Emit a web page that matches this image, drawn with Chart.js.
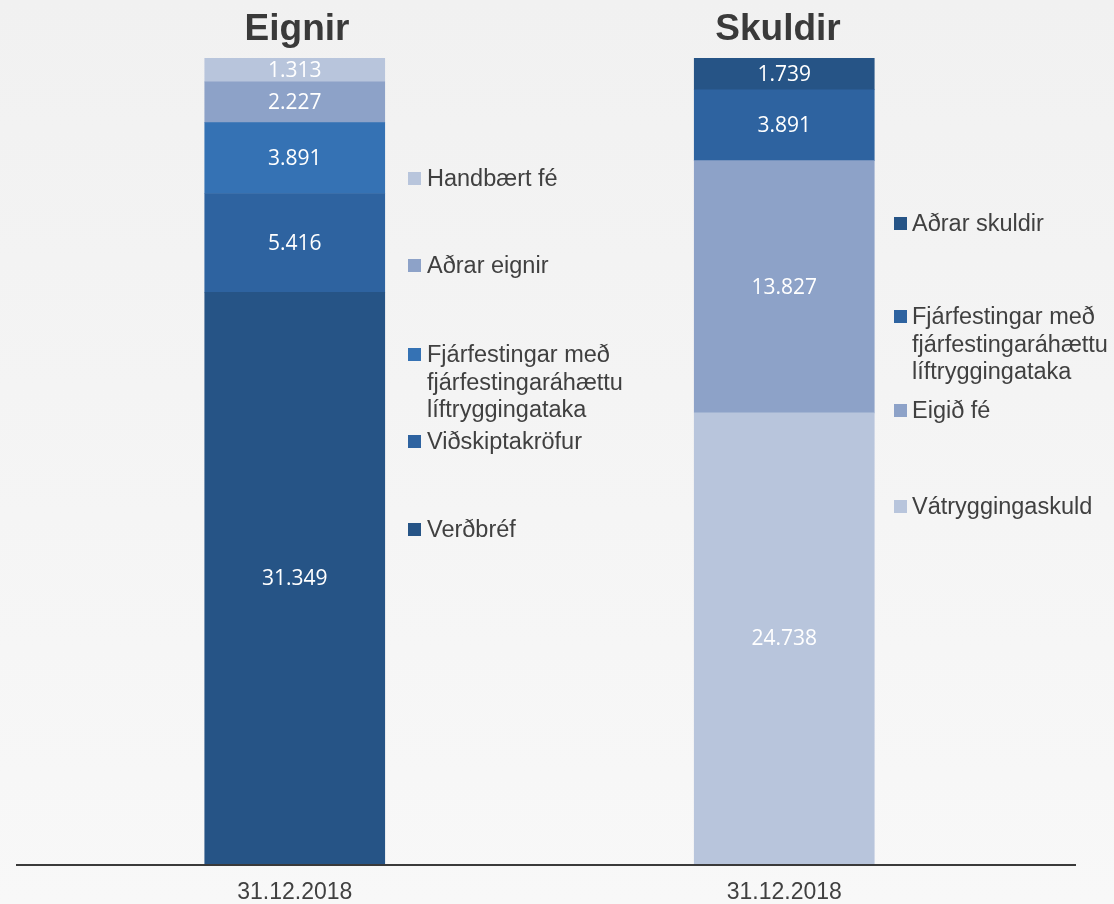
<!DOCTYPE html>
<html>
<head>
<meta charset="utf-8">
<script src="https://cdn.jsdelivr.net/npm/chart.js@4/dist/chart.umd.min.js"></script>
<style>
  html, body { margin:0; padding:0; }
  body { width:1114px; height:904px; background: linear-gradient(#f1f1f1, #f8f8f8); overflow:hidden; }
  #wrap { position:relative; width:1114px; height:904px; }
  canvas { display:block; }
</style>
</head>
<body>
<div id="wrap"><canvas id="c" width="1114" height="904"></canvas></div>
<script>
// ---- DATA ----
const categories = ["31.12.2018", "31.12.2018"];
const panelTitles = ["Eignir", "Skuldir"];

// Eignir (assets), bottom to top of stack
const eignirLabels = ["Verðbréf", "Viðskiptakröfur", "Fjárfestingar með fjárfestingaráhættu líftryggingataka", "Aðrar eignir", "Handbært fé"];
const eignirValues = [31349, 5416, 3891, 2227, 1313];

// Skuldir (liabilities & equity), bottom to top of stack
const skuldirLabels = ["Vátryggingaskuld", "Eigið fé", "Fjárfestingar með fjárfestingaráhættu líftryggingataka", "Aðrar skuldir"];
const skuldirValues = [24738, 13827, 3891, 1739];

// ---- STYLE / LAYOUT ----
const eignirColors = ["#265486", "#2e63a0", "#3572b4", "#8da2c8", "#b8c5dc"];
const skuldirColors = ["#b8c5dc", "#8da2c8", "#2e63a0", "#265486"];
const textColor = "#404040";
// legend baselines (y of first text line), same order as datasets
const eignirLegendY = [537, 449, 362, 273, 186];
const skuldirLegendY = [514, 418, 324, 231];
const legendLayout = [
  { markerX: 408, textX: 427, maxW: 245, ys: eignirLegendY },
  { markerX: 894, textX: 912, maxW: 205, ys: skuldirLegendY }
];
const titleX = [297, 778];

function fmt(v) { return String(v).replace(/\B(?=(\d{3})+(?!\d))/g, "."); }

const datasets = [];
eignirLabels.forEach((lab, i) => {
  datasets.push({ label: lab, group: 0, idx: i, data: [eignirValues[i], null], backgroundColor: eignirColors[i] });
});
skuldirLabels.forEach((lab, i) => {
  datasets.push({ label: lab, group: 1, idx: i, data: [null, skuldirValues[i]], backgroundColor: skuldirColors[i] });
});

const total = Math.max(eignirValues.reduce((a, b) => a + b, 0), skuldirValues.reduce((a, b) => a + b, 0));

function wrap(ctx, text, maxW) {
  const words = text.split(" ");
  const lines = [];
  let cur = "";
  words.forEach(w => {
    const t = cur ? cur + " " + w : w;
    if (ctx.measureText(t).width > maxW && cur) { lines.push(cur); cur = w; }
    else cur = t;
  });
  if (cur) lines.push(cur);
  return lines;
}

const overlay = {
  id: "overlay",
  afterDatasetsDraw(chart) {
    const ctx = chart.ctx;
    ctx.save();
    ctx.fillStyle = "#ffffff";
    ctx.font = "21px 'Open Sans'";
    ctx.textAlign = "center";
    ctx.textBaseline = "middle";
    chart.data.datasets.forEach((ds, i) => {
      const meta = chart.getDatasetMeta(i);
      meta.data.forEach((bar, j) => {
        const v = ds.data[j];
        if (v == null) return;
        const p = bar.getProps(["x", "y", "base"], true);
        ctx.fillText(fmt(v), p.x, (p.y + p.base) / 2 + 1);
      });
    });
    ctx.restore();
  },
  afterDraw(chart) {
    const ctx = chart.ctx;
    const area = chart.chartArea;
    ctx.save();
    // axis line
    ctx.strokeStyle = "#3a3a3a";
    ctx.lineWidth = 2;
    ctx.beginPath();
    ctx.moveTo(16, area.bottom + 1);
    ctx.lineTo(1076, area.bottom + 1);
    ctx.stroke();
    // titles
    ctx.fillStyle = "#3a3a3a";
    ctx.font = "bold 37px 'Liberation Sans', Arial, sans-serif";
    ctx.textAlign = "center";
    ctx.textBaseline = "alphabetic";
    panelTitles.forEach((t, i) => ctx.fillText(t, titleX[i], 40));
    // legends
    ctx.font = "23.5px 'Liberation Sans', Arial, sans-serif";
    ctx.textAlign = "left";
    chart.data.datasets.forEach(ds => {
      const L = legendLayout[ds.group];
      const y0 = L.ys[ds.idx];
      ctx.fillStyle = ds.backgroundColor;
      ctx.fillRect(L.markerX, y0 - 14, 13, 13);
      ctx.fillStyle = textColor;
      wrap(ctx, ds.label, L.maxW).forEach((line, k) => ctx.fillText(line, L.textX, y0 + k * 27.5));
    });
    ctx.restore();
  }
};

new Chart(document.getElementById("c"), {
  type: "bar",
  data: { labels: categories, datasets: datasets },
  options: {
    responsive: false,
    animation: false,
    devicePixelRatio: 1,
    layout: { padding: { left: 50, right: 85, top: 58, bottom: 2 } },
    datasets: { bar: { barThickness: 180, borderWidth: 0 } },
    plugins: { legend: { display: false }, tooltip: { enabled: false }, title: { display: false } },
    scales: {
      x: {
        stacked: true,
        offset: true,
        grid: { display: false, drawTicks: false },
        border: { display: false },
        ticks: { color: textColor, padding: 15, font: { family: "'Liberation Sans', Arial, sans-serif", size: 23 } },
        afterFit: (s) => { s.height = 38; }
      },
      y: {
        stacked: true,
        display: false,
        min: 0,
        max: total
      }
    }
  },
  plugins: [overlay]
});
</script>
</body>
</html>
